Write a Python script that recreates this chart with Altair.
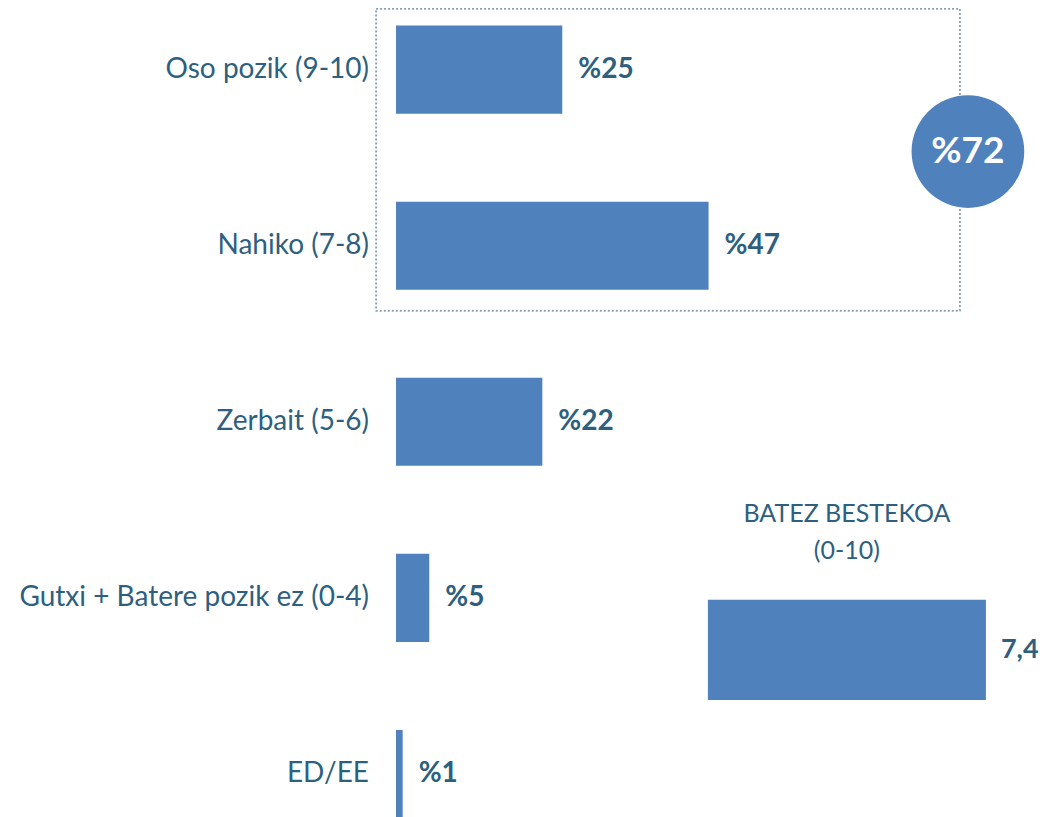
import altair as alt
import pandas as pd

# ---- data ----
categories = ["Oso pozik (9-10)", "Nahiko (7-8)", "Zerbait (5-6)",
              "Gutxi + Batere pozik ez (0-4)", "ED/EE"]
values = [25, 47, 22, 5, 1]
value_labels = ["%25", "%47", "%22", "%5", "%1"]
group_label = "%72"
mean_title = ["BATEZ BESTEKOA", "(0-10)"]
mean_value = 7.4
mean_label = "7,4"

BAR = "#4F81BD"
TXT = "#2E5F7E"
FONT = "Lato"

bars_df = pd.DataFrame({
    "cat": categories,
    "idx": list(range(len(categories))),
    "value": values,
    "label": value_labels,
})
bars_df["start"] = 0
bars_df["y0"] = bars_df["idx"] - 0.25
bars_df["y1"] = bars_df["idx"] + 0.25

box_df = pd.DataFrame({"x0": [-3.0], "x1": [84.8], "y0": [-0.345], "y1": [1.37]})
circle_df = pd.DataFrame({"x": [86.0], "y": [0.465], "label": [group_label]})
mean_df = pd.DataFrame({"start": [0], "value": [mean_value], "label": [mean_label],
                        "y0": [3.01], "y1": [3.58], "yc": [3.295]})
mean_title_df = pd.DataFrame({"text": mean_title, "x": [3.7, 3.7], "y": [2.526, 2.736]})

xs = alt.Scale(domain=[-58.35, 96.84], nice=False, zero=False)
xm = alt.Scale(domain=[-18.63, 8.84], nice=False, zero=False)
ys = alt.Scale(domain=[-0.35, 4.25], nice=False, zero=False, reverse=True)

base = alt.Chart(bars_df)

bars = base.mark_rect(color=BAR).encode(
    x=alt.X("start:Q", scale=xs, axis=None),
    x2="value:Q",
    y=alt.Y("y0:Q", scale=ys, axis=None),
    y2="y1:Q",
)

val_text = base.mark_text(align="left", baseline="middle", dx=16, font=FONT,
                          fontSize=28, fontWeight="bold", color=TXT).encode(
    x=alt.X("value:Q", scale=xs, axis=None),
    y=alt.Y("idx:Q", scale=ys, axis=None),
    text="label:N",
)

cat_text = base.mark_text(align="right", baseline="middle", dx=-27, font=FONT,
                          fontSize=28, color=TXT).encode(
    x=alt.X("start:Q", scale=xs, axis=None),
    y=alt.Y("idx:Q", scale=ys, axis=None),
    text="cat:N",
)

box = alt.Chart(box_df).mark_rect(fill="white", fillOpacity=0, stroke="#5B7A96",
                                  strokeWidth=1.3, strokeDash=[2, 2]).encode(
    x=alt.X("x0:Q", scale=xs, axis=None),
    x2="x1:Q",
    y=alt.Y("y0:Q", scale=ys, axis=None),
    y2="y1:Q",
)

circ = alt.Chart(circle_df).mark_circle(size=12700, color=BAR, opacity=1).encode(
    x=alt.X("x:Q", scale=xs, axis=None),
    y=alt.Y("y:Q", scale=ys, axis=None),
)
circ_text = alt.Chart(circle_df).mark_text(align="center", baseline="middle", font=FONT,
                                           fontSize=37, fontWeight="bold", color="white").encode(
    x=alt.X("x:Q", scale=xs, axis=None),
    y=alt.Y("y:Q", scale=ys, axis=None),
    text="label:N",
)

mean_bar = alt.Chart(mean_df).mark_rect(color=BAR).encode(
    x=alt.X("start:Q", scale=xm, axis=None),
    x2="value:Q",
    y=alt.Y("y0:Q", scale=ys, axis=None),
    y2="y1:Q",
)
mean_text = alt.Chart(mean_df).mark_text(align="left", baseline="middle", dx=15, font=FONT,
                                         fontSize=27, fontWeight="bold", color=TXT).encode(
    x=alt.X("value:Q", scale=xm, axis=None),
    y=alt.Y("yc:Q", scale=ys, axis=None),
    text="label:N",
)
mean_title_text = alt.Chart(mean_title_df).mark_text(align="center", baseline="middle", font=FONT,
                                                     fontSize=25, color=TXT).encode(
    x=alt.X("x:Q", scale=xm, axis=None),
    y=alt.Y("y:Q", scale=ys, axis=None),
    text="text:N",
)

main = alt.layer(box, bars, val_text, cat_text, circ, circ_text)
mean = alt.layer(mean_bar, mean_text, mean_title_text)

chart = alt.layer(main, mean).resolve_scale(x="independent").properties(
    width=1032, height=810, padding=0,
    autosize=alt.AutoSizeParams(type="none"),
).configure_view(stroke=None)

chart.save("out.html", embed_options={"renderer": "svg", "actions": False})
